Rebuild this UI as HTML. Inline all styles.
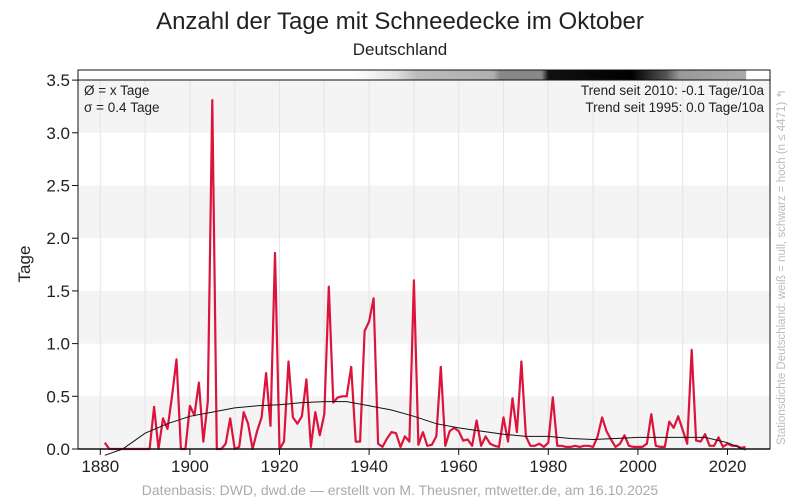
<!DOCTYPE html>
<html><head><meta charset="utf-8"><style>
body{margin:0;background:#fff;}
svg{display:block;font-family:"Liberation Sans",sans-serif;}
</style></head><body>
<svg id="chart" width="800" height="500" viewBox="0 0 800 500">
<defs>
<linearGradient id="strip" x1="0" x2="1" y1="0" y2="0">
<stop offset="0" stop-color="#fff"/><stop offset="0.40" stop-color="#fff"/>
<stop offset="0.46" stop-color="#e0e0e0"/><stop offset="0.49" stop-color="#bbb"/>
<stop offset="0.60" stop-color="#b0b0b0"/><stop offset="0.61" stop-color="#888"/>
<stop offset="0.67" stop-color="#888"/><stop offset="0.68" stop-color="#111"/>
<stop offset="0.80" stop-color="#000"/><stop offset="0.85" stop-color="#555"/>
<stop offset="0.87" stop-color="#999"/><stop offset="0.965" stop-color="#aaa"/>
<stop offset="0.966" stop-color="#fff"/><stop offset="1" stop-color="#fff"/>
</linearGradient>
</defs>
<g id="bands"></g>
<g id="vgrid"></g>
<rect x="78" y="70" width="692" height="10" fill="url(#strip)"/>
<g id="marks"></g>
<rect x="78" y="70" width="692" height="379" fill="none" stroke="#111" stroke-width="1"/>
<line x1="78" y1="80" x2="770" y2="80" stroke="#111" stroke-width="1"/>
<line x1="78" y1="449" x2="770" y2="449" stroke="#111" stroke-width="1.5"/>
<g id="yaxis"></g>
<g id="xaxis"></g>
<text x="400" y="29" text-anchor="middle" font-size="24" fill="#222">Anzahl der Tage mit Schneedecke im Oktober</text>
<text x="400" y="55" text-anchor="middle" font-size="17" fill="#222">Deutschland</text>
<text transform="translate(30,264) rotate(-90)" text-anchor="middle" font-size="17" fill="#222">Tage</text>
<text x="84" y="95" font-size="13.5" fill="#222">Ø = x Tage</text>
<text x="84" y="112" font-size="13.5" fill="#222">σ = 0.4 Tage</text>
<text x="764" y="95" text-anchor="end" font-size="13.5" fill="#222">Trend seit 2010: -0.1 Tage/10a</text>
<text x="764" y="112" text-anchor="end" font-size="13.5" fill="#222">Trend seit 1995: 0.0 Tage/10a</text>
<text transform="translate(785,445) rotate(-90)" font-size="11.5" fill="#bbb">Stationsdichte Deutschland: weiß = null, schwarz = hoch (n ≤ 4471) ↰</text>
<text x="400" y="495" text-anchor="middle" font-size="14" fill="#aaa">Datenbasis: DWD, dwd.de — erstellt von M. Theusner, mtwetter.de, am 16.10.2025</text>
</svg>
<script>
const startYear = 1881;
const days = [0.06,0,0,0,0,0,0,0,0,0,0,0.40,0,0.29,0.19,0.5,0.85,0,0,0.41,0.32,0.63,0.07,0.45,3.31,0,0,0.05,0.29,0,0.02,0.35,0.24,0,0.17,0.3,0.72,0.22,1.86,0,0.07,0.83,0.3,0.24,0.31,0.66,0.02,0.35,0.13,0.33,1.54,0.44,0.49,0.5,0.5,0.78,0.07,0.07,1.12,1.21,1.43,0.05,0.02,0.1,0.16,0.15,0.02,0.12,0.07,1.6,0.04,0.16,0.03,0.04,0.12,0.78,0.03,0.17,0.2,0.17,0.08,0.09,0.03,0.27,0.03,0.12,0.05,0.03,0.02,0.3,0.07,0.48,0.16,0.83,0.12,0.03,0.03,0.05,0.02,0.06,0.49,0.03,0.03,0.02,0.02,0.03,0.02,0.03,0.03,0.02,0.12,0.30,0.17,0.09,0.02,0.05,0.13,0.03,0.02,0.02,0.02,0.05,0.33,0.03,0.02,0.02,0.26,0.2,0.31,0.18,0.05,0.94,0.08,0.07,0.14,0.03,0.03,0.11,0.02,0.05,0.03,0.03,0.01,0.02];
const smoothYears = [1881,1885,1890,1895,1900,1905,1910,1915,1920,1925,1930,1935,1940,1945,1950,1955,1960,1965,1970,1975,1980,1985,1990,1995,2000,2005,2010,2015,2020,2024];
const smoothVals = [-0.06,0.0,0.15,0.24,0.31,0.35,0.39,0.41,0.42,0.44,0.45,0.45,0.41,0.37,0.31,0.24,0.2,0.17,0.14,0.12,0.12,0.1,0.09,0.1,0.11,0.11,0.11,0.11,0.06,-0.01];
const yTicks = [0,0.5,1,1.5,2,2.5,3,3.5];
const yTickLabels = ["0.0","0.5","1.0","1.5","2.0","2.5","3.0","3.5"];
const xTicks = [1880,1900,1920,1940,1960,1980,2000,2020];
const xTickLabels = ["1880","1900","1920","1940","1960","1980","2000","2020"];

const NS = "http://www.w3.org/2000/svg";
const xS = yr => 100.3 + (yr - 1880) * 4.48;
const yS = v => 449 - v * 105.4;
function mk(tag, parent, attrs){const e=document.createElementNS(NS,tag);for(const k in attrs)e.setAttribute(k,attrs[k]);parent.appendChild(e);return e;}

const bands=document.getElementById('bands');
for(let i=0;i<yTicks.length-1;i++){
  if(i%2===0){
    const r=mk('rect',bands,{x:78,y:yS(yTicks[i+1]),width:692,height:yS(yTicks[i])-yS(yTicks[i+1]),fill:'#f4f4f4'});
    
    
  }
}
const vg=document.getElementById('vgrid');
for(let yr=1880;yr<=2020;yr+=10){
  const l=mk('line',vg,{x1:xS(yr),x2:xS(yr),y1:80,y2:449,stroke:'#e4e4e4','stroke-width':1});
  
  
}
const ya=document.getElementById('yaxis');
yTicks.forEach((t,i)=>{
  const l=mk('line',ya,{x1:72,x2:78,y1:yS(t),y2:yS(t),stroke:'#111'});
  
  
  const tx=mk('text',ya,{x:70,y:yS(t)+6,'text-anchor':'end','font-size':17,fill:'#222'});
  tx.textContent=yTickLabels[i];
  
  
});
const xa=document.getElementById('xaxis');
xTicks.forEach((t,i)=>{
  const l=mk('line',xa,{x1:xS(t),x2:xS(t),y1:449,y2:455,stroke:'#111'});
  
  
  const tx=mk('text',xa,{x:xS(t),y:472,'text-anchor':'middle','font-size':17,fill:'#222'});
  tx.textContent=xTickLabels[i];
  
  
});
const marks=document.getElementById('marks');
const dpts=days.map((v,i)=>xS(startYear+i).toFixed(1)+','+yS(v).toFixed(1)).join(' ');
const dl=mk('polyline',marks,{points:dpts,fill:'none',stroke:'#dc143c','stroke-width':2.2,'stroke-linejoin':'round'});


const spts=smoothYears.map((y,i)=>xS(y).toFixed(1)+','+yS(smoothVals[i]).toFixed(1)).join(' ');
const sl=mk('polyline',marks,{points:spts,fill:'none',stroke:'#111','stroke-width':1});


</script>
</body></html>
